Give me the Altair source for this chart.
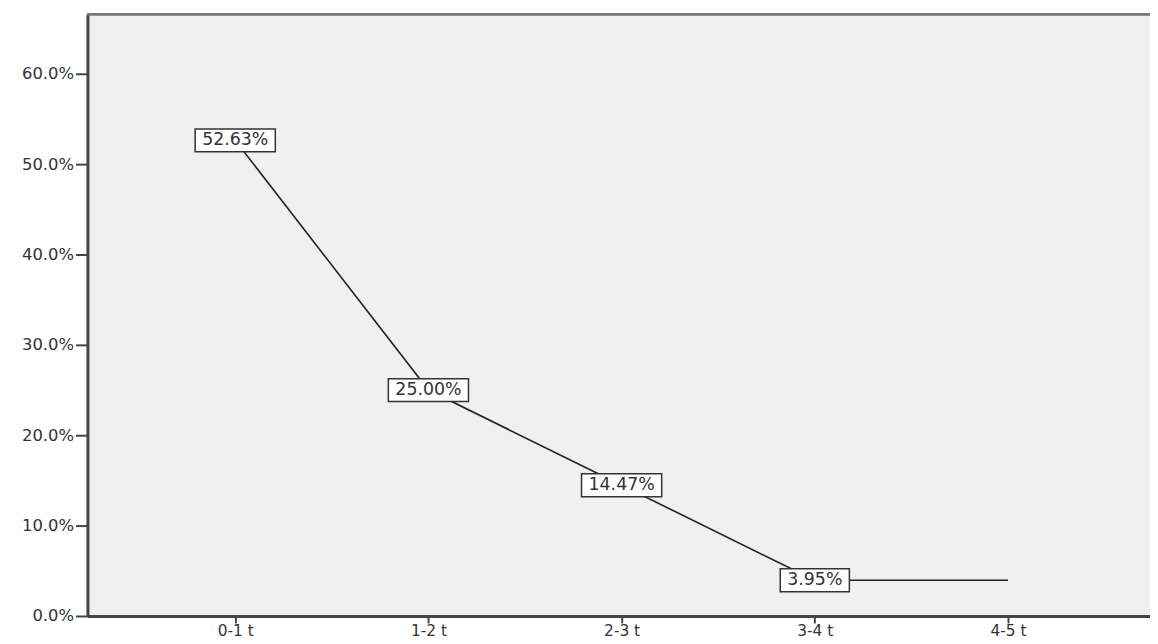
import altair as alt
import pandas as pd

categories = ["0-1 t", "1-2 t", "2-3 t", "3-4 t", "4-5 t"]
values = [52.63, 25.00, 14.47, 3.95, 3.95]
labels = ["52.63%", "25.00%", "14.47%", "3.95%", ""]
y_ticks = [0, 10, 20, 30, 40, 50, 60]

df = pd.DataFrame({"cat": categories, "val": values, "label": labels})
lab_df = df[df["label"] != ""].copy()

FONT = "DejaVu Sans"
LABEL_SIZE = 17.5
CHAR_W = {".": 0.318, "%": 0.95}

# box shapes (custom SVG paths) sized to each label's text length
def box_path(text):
    em = sum(CHAR_W.get(c, 0.636) for c in text)
    w = em * LABEL_SIZE + 14
    hw = w / 2 / 50.0
    hh = 11.5 / 50.0
    return f"M{-hw:.4f},{-hh:.4f}L{hw:.4f},{-hh:.4f}L{hw:.4f},{hh:.4f}L{-hw:.4f},{hh:.4f}Z"

box_paths = [box_path(t) for t in lab_df["label"]]

x_enc = alt.X("cat:N", sort=categories,
              scale=alt.Scale(type="point", padding=0.75, align=0.51),
              axis=alt.Axis(title=None, labelAngle=0, tickSize=7, tickWidth=2,
                            tickColor="#444", domainColor="#444", domainWidth=3,
                            labelFont=FONT, labelFontSize=15.5, labelColor="#333",
                            labelPadding=1, grid=False))
y_enc = alt.Y("val:Q",
              scale=alt.Scale(domain=[0, 66.6], nice=False, zero=True),
              axis=alt.Axis(title=None, values=y_ticks, tickSize=12, tickWidth=2,
                            tickColor="#444", domainColor="#444", domainWidth=3,
                            labelFont=FONT, labelFontSize=16.5, labelColor="#333",
                            labelPadding=2, grid=False,
                            labelExpr="format(datum.value, '.1f') + '%'"))

top_border = alt.Chart(df).mark_rule(color="#777", strokeWidth=2).encode(
    x=alt.value(0), x2=alt.value(1070), y=alt.value(0))

line = alt.Chart(df).mark_line(color="#222", strokeWidth=1.6).encode(x=x_enc, y=y_enc)

boxes = alt.Chart(lab_df).mark_point(filled=False, fill="white", fillOpacity=1,
                                     stroke="#333", strokeWidth=1.5, opacity=1,
                                     size=10000).encode(
    x=alt.X("cat:N", sort=categories),
    y="val:Q",
    shape=alt.Shape("label:N", scale=alt.Scale(domain=list(lab_df["label"]), range=box_paths),
                    legend=None),
)

texts = alt.Chart(lab_df).mark_text(font=FONT, fontSize=LABEL_SIZE, color="#333",
                                    baseline="middle", align="center").encode(
    x=alt.X("cat:N", sort=categories),
    y="val:Q",
    text="label:N",
)

chart = alt.layer(top_border, line, boxes, texts).properties(
    width=1070, height=606,
    autosize=alt.AutoSizeParams(type="none"),
    padding={"left": 80, "top": 4, "right": 0, "bottom": 26},
    background="white",
).configure_view(fill="#f0f0f0", stroke=None)

chart.save("out.html", embed_options={"renderer": "svg", "actions": False})
